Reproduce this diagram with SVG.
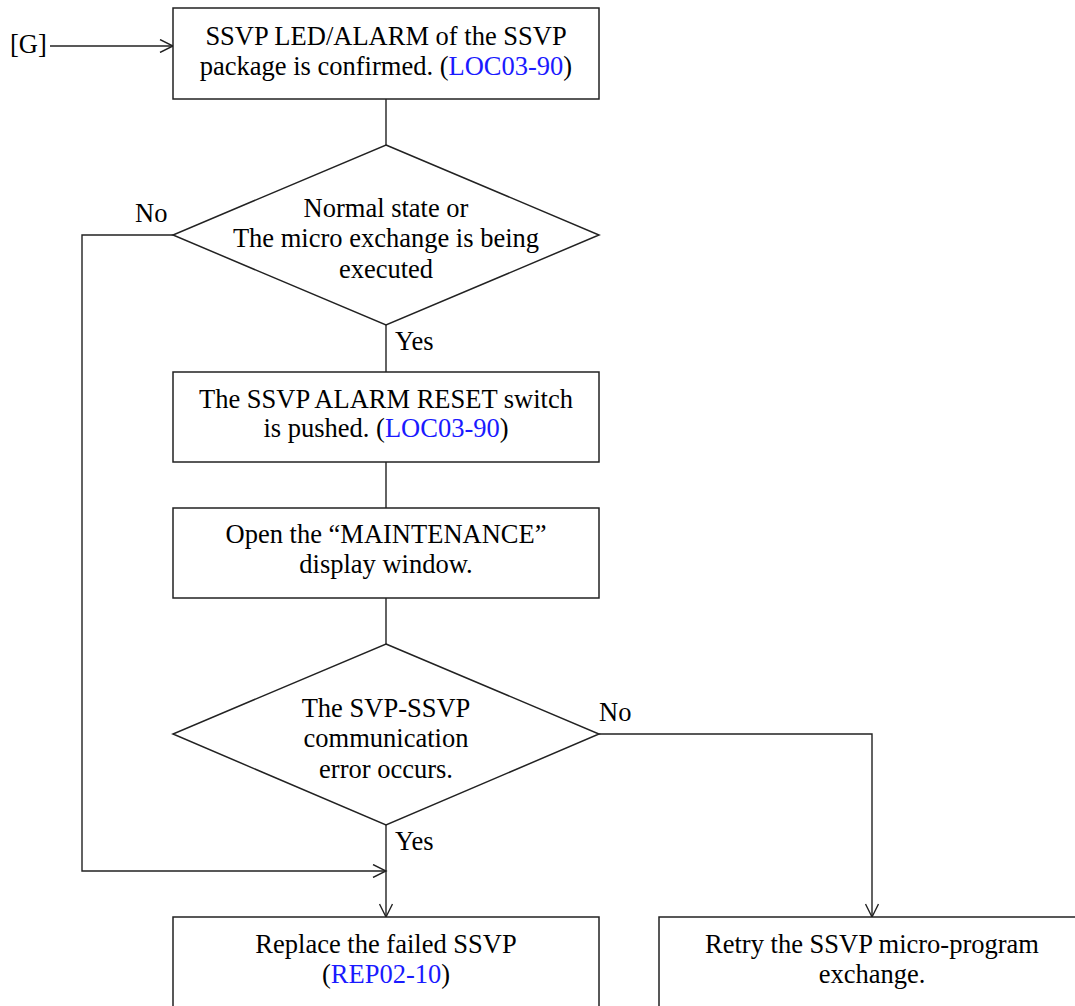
<svg xmlns="http://www.w3.org/2000/svg" width="1075" height="1006" viewBox="0 0 1075 1006">
<style>
.shape{fill:#fff;stroke:#222;stroke-width:1.5}
.conn{fill:none;stroke:#222;stroke-width:1.4}
text{font-family:"Liberation Serif","Times New Roman",serif;font-size:26.5px;fill:#000}
.c{text-anchor:middle}
.link{fill:#1a1aff}
</style>
<defs>
<marker id="arr" markerUnits="userSpaceOnUse" markerWidth="16" markerHeight="14" refX="14" refY="7" orient="auto">
<path d="M1,0.5 L14,7 L1,13.5" fill="none" stroke="#222" stroke-width="1.4"/>
</marker>
</defs>
<rect width="1075" height="1006" fill="#fff"/>
<g id="connectors">
<path class="conn" d="M50,46 H173" marker-end="url(#arr)"/>
<path class="conn" d="M386,99 V145"/>
<path class="conn" d="M386,325 V372"/>
<path class="conn" d="M386,462 V508"/>
<path class="conn" d="M386,598 V644"/>
<path class="conn" d="M173,235 H82 V871 H386" marker-end="url(#arr)"/>
<path class="conn" d="M386,825 V917" marker-end="url(#arr)"/>
<path class="conn" d="M599,734 H872 V917" marker-end="url(#arr)"/>
</g>
<g id="start-label">
<text x="10" y="53">[G]</text>
</g>
<g id="box1">
<rect class="shape" x="173" y="8" width="426" height="91"/>
<text class="c" x="386" y="45">SSVP LED/ALARM of the SSVP</text>
<text class="c" x="386" y="75">package is confirmed. (<tspan class="link">LOC03-90</tspan>)</text>
</g>
<g id="decision1">
<polygon class="shape" points="386,145 599,235 386,325 173,235"/>
<text class="c" x="386" y="217">Normal state or</text>
<text class="c" x="386" y="247">The micro exchange is being</text>
<text class="c" x="386" y="278">executed</text>
<text x="135" y="222">No</text>
<text x="395" y="350">Yes</text>
</g>
<g id="box2">
<rect class="shape" x="173" y="372" width="426" height="90"/>
<text class="c" x="386" y="408">The SSVP ALARM RESET switch</text>
<text class="c" x="386" y="437">is pushed. (<tspan class="link">LOC03-90</tspan>)</text>
</g>
<g id="box3">
<rect class="shape" x="173" y="508" width="426" height="90"/>
<text class="c" x="386" y="543">Open the “MAINTENANCE”</text>
<text class="c" x="386" y="573">display window.</text>
</g>
<g id="decision2">
<polygon class="shape" points="386,644 599,734 386,825 173,734"/>
<text class="c" x="386" y="717">The SVP-SSVP</text>
<text class="c" x="386" y="747">communication</text>
<text class="c" x="386" y="778">error occurs.</text>
<text x="599" y="721">No</text>
<text x="395" y="850">Yes</text>
</g>
<g id="box4">
<rect class="shape" x="173" y="917" width="426" height="100"/>
<text class="c" x="386" y="953">Replace the failed SSVP</text>
<text class="c" x="386" y="983">(<tspan class="link">REP02-10</tspan>)</text>
</g>
<g id="box5">
<rect class="shape" x="659" y="917" width="430" height="100"/>
<text class="c" x="872" y="953">Retry the SSVP micro-program</text>
<text class="c" x="872" y="983">exchange.</text>
</g>
</svg>
